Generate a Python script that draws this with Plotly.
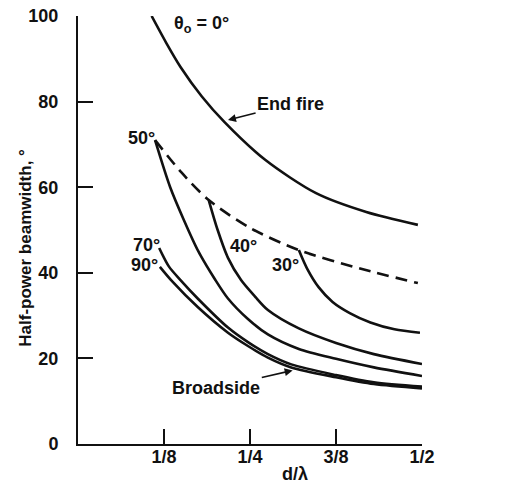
import plotly.graph_objects as go

# d/lambda values and half-power beamwidth (degrees)
endfire_x = [0.107, 0.128, 0.149, 0.180, 0.213, 0.272, 0.346, 0.419, 0.494]
endfire_y = [100.0, 93.8, 88.1, 81.2, 75.2, 66.4, 58.6, 54.2, 51.2]

scan_x = [0.112, 0.150, 0.190, 0.250, 0.321, 0.410, 0.494]
scan_y = [71.0, 63.5, 57.0, 50.5, 45.3, 41.0, 37.6]

t50_x = [0.112, 0.134, 0.154, 0.175, 0.199, 0.218, 0.247, 0.276, 0.321, 0.375, 0.430, 0.500]
t50_y = [71.0, 60.0, 52.3, 45.0, 38.5, 34.0, 29.2, 25.6, 22.2, 19.9, 17.9, 15.9]

t40_x = [0.190, 0.203, 0.218, 0.237, 0.257, 0.276, 0.321, 0.375, 0.430, 0.500]
t40_y = [57.0, 50.0, 43.5, 38.3, 34.5, 31.3, 27.0, 23.6, 21.0, 18.7]

t30_x = [0.321, 0.333, 0.350, 0.370, 0.395, 0.425, 0.460, 0.497]
t30_y = [45.3, 41.0, 36.6, 33.2, 30.6, 28.4, 26.8, 26.0]

t70_x = [0.118, 0.132, 0.149, 0.174, 0.218, 0.247, 0.276, 0.310, 0.375, 0.430, 0.500]
t70_y = [45.8, 41.5, 38.3, 34.0, 27.2, 23.8, 21.0, 18.6, 16.1, 14.4, 13.4]

t90_x = [0.119, 0.137, 0.174, 0.218, 0.247, 0.276, 0.310, 0.375, 0.430, 0.500]
t90_y = [41.4, 38.0, 32.0, 26.0, 22.9, 20.2, 17.9, 15.6, 14.0, 13.0]

x_tick_vals = [0.125, 0.25, 0.375, 0.5]
x_tick_text = ["1/8", "1/4", "3/8", "1/2"]
y_tick_vals = [0, 20, 40, 60, 80, 100]

FONT = "Liberation Sans"
BLK = "#111111"

fig = go.Figure()
solid = [(endfire_x, endfire_y), (t50_x, t50_y), (t40_x, t40_y),
         (t30_x, t30_y), (t70_x, t70_y), (t90_x, t90_y)]
for xs, ys in solid:
    fig.add_trace(go.Scatter(x=xs, y=ys, mode="lines",
                             line=dict(color=BLK, width=2.6, shape="spline", smoothing=0.8),
                             showlegend=False, hoverinfo="skip", cliponaxis=False))
fig.add_trace(go.Scatter(x=scan_x, y=scan_y, mode="lines",
                         line=dict(color=BLK, width=2.6, dash="12px,7px", shape="spline", smoothing=0.8),
                         showlegend=False, hoverinfo="skip", cliponaxis=False))

tf = dict(family=FONT, size=18, color=BLK, weight="bold")
tf_title = dict(family=FONT, size=17, color=BLK, weight="bold")

def label(x, y, text, xanchor="center"):
    fig.add_annotation(x=x, y=y, xref="x", yref="y", text=text, showarrow=False,
                       font=tf, xanchor=xanchor, yanchor="middle")

label(0.179, 97.9, "θ<sub>o</sub> = 0°")
label(0.0916, 71.5, "50°")
label(0.099, 46.5, "70°")
label(0.096, 41.8, "90°")
label(0.240, 46.3, "40°")
label(0.302, 41.8, "30°")
label(0.506, 37.6, "Scan limit", xanchor="left")

fig.add_annotation(x=0.218, y=75.7, xref="x", yref="y", ax=0.309, ay=79.4,
                   axref="x", ayref="y", text="End fire", showarrow=True,
                   arrowhead=2, arrowsize=1, arrowwidth=1.6, arrowcolor=BLK, font=tf)
fig.add_annotation(x=0.312, y=17.2, xref="x", yref="y", ax=0.201, ay=13.1,
                   axref="x", ayref="y", text="Broadside", showarrow=True,
                   arrowhead=2, arrowsize=1, arrowwidth=1.6, arrowcolor=BLK, font=tf)

fig.add_annotation(x=-0.152, y=0.458, xref="paper", yref="paper",
                   text="Half-power beamwidth, °", textangle=-90, showarrow=False,
                   font=tf_title, xanchor="center", yanchor="middle")
fig.add_annotation(x=0.632, y=-0.071, xref="paper", yref="paper",
                   text="d/λ", showarrow=False, font=tf,
                   xanchor="center", yanchor="middle")

fig.update_layout(
    width=514, height=484,
    margin=dict(l=78, r=92, t=16, b=40),
    paper_bgcolor="white", plot_bgcolor="white",
    xaxis=dict(range=[0, 0.5], tickvals=x_tick_vals, ticktext=x_tick_text,
               ticks="inside", ticklen=15, tickwidth=2, tickcolor=BLK,
               showline=True, linecolor=BLK, linewidth=2, showgrid=False,
               zeroline=False, tickfont=tf, automargin=False, ticklabelstandoff=-5),
    yaxis=dict(range=[0, 100], tickvals=y_tick_vals,
               ticks="inside", ticklen=15, tickwidth=2, tickcolor=BLK,
               showline=True, linecolor=BLK, linewidth=2, showgrid=False,
               zeroline=False, tickfont=tf, ticklabelstandoff=14, automargin=False),
)

fig.write_html("out.html", config={"displayModeBar": False},
               post_script="document.body.style.margin='0';document.body.style.overflow='hidden';")
